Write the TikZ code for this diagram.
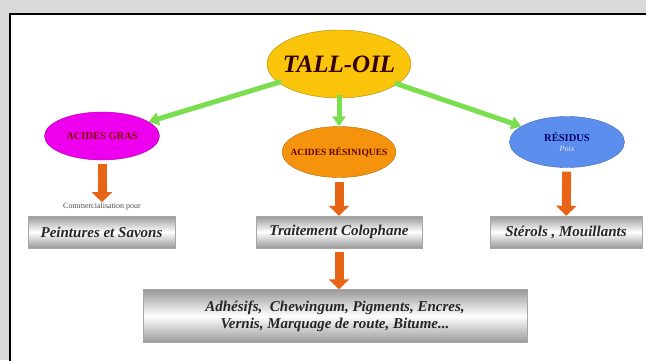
\documentclass[tikz,border=0pt]{standalone}
\usepackage{fontspec}
\setmainfont{Liberation Serif}
\usetikzlibrary{shapes.geometric,arrows.meta}
\definecolor{talloil}{RGB}{250,196,10}
\definecolor{gras}{RGB}{238,0,238}
\definecolor{resine}{RGB}{245,148,12}
\definecolor{residu}{RGB}{92,142,238}
\definecolor{vert}{RGB}{122,222,78}
\definecolor{orangef}{RGB}{232,100,22}

\begin{document}
\begin{tikzpicture}[x=1pt,y=-1pt,
  bulle/.style={ellipse,draw=#1!70!black,fill=#1,inner sep=0pt,align=center},
  boite/.style={rectangle,draw=gray!70,top color=gray!80,bottom color=gray!80,middle color=white,
    minimum height=32pt,align=center,text=black!85,font=\bfseries\itshape\fontsize{15}{17}\selectfont},
  fleche/.style={draw=vert,line width=5pt,-{Triangle[width=13pt,length=10pt]},shorten <=-3pt},
  descente/.style={draw=orangef,line width=9pt,-{Triangle[width=20pt,length=10pt]},shorten <=4pt}]
\useasboundingbox (0,0) rectangle (646,360);
\fill[gray!30] (0,0) rectangle (646,360);
\filldraw[fill=white,draw=black,line width=1.5pt] (10,14) rectangle (660,372);

\node[bulle=talloil,minimum width=144pt,minimum height=68pt,inner xsep=-6pt,
  font=\bfseries\itshape\fontsize{25}{27}\selectfont,text=black!80!red] (tall) at (339,64) {TALL-OIL};
\node[bulle=gras,minimum width=115pt,minimum height=48pt,inner xsep=-6pt,
  font=\bfseries\fontsize{10.5}{12}\selectfont,text=red!50!black] (acgras) at (102,136) {ACIDES GRAS};
\node[bulle=resine,minimum width=114pt,minimum height=51pt,inner xsep=-11pt,
  font=\bfseries\fontsize{9.5}{11}\selectfont,text=red!40!black] (acresin) at (339,152) {ACIDES RÉSINIQUES};
\node[bulle=residu,minimum width=115pt,minimum height=51pt,
  font=\bfseries\fontsize{10.5}{11}\selectfont,text=blue!40!black] (residus) at (567,142)
  {RÉSIDUS\\[-1pt]{\itshape\mdseries\fontsize{8}{9}\selectfont\color{blue!10}Poix}};

\node[font=\fontsize{8}{9}\selectfont,text=black!70,inner sep=1pt] (comm) at (102,207) {Commercialisation pour};
\node[boite,minimum width=147pt] (peint) at (101.5,232) {Peintures et Savons};
\node[boite,minimum width=166pt] (colo) at (339,232) {Traitement Colophane};
\node[boite,minimum width=152pt] (sterols) at (566,232) {Stérols , Mouillants};
\node[boite,minimum width=384pt,minimum height=53pt,font=\bfseries\itshape\fontsize{15}{17}\selectfont]
  (usages) at (335,316) {Adhésifs, \ Chewingum, Pigments, Encres,\\Vernis, Marquage de route, Bitume...};

\draw[fleche] (tall) -- (acgras);
\draw[fleche] (tall) -- (acresin);
\draw[fleche] (tall) -- (residus);

\draw[descente] (acgras) -- (comm);
\draw[descente] (acresin) -- (colo);
\draw[descente] (residus) -- (sterols);
\draw[descente] (colo.south) -- (colo.south |- usages.north);
\end{tikzpicture}
\end{document}
